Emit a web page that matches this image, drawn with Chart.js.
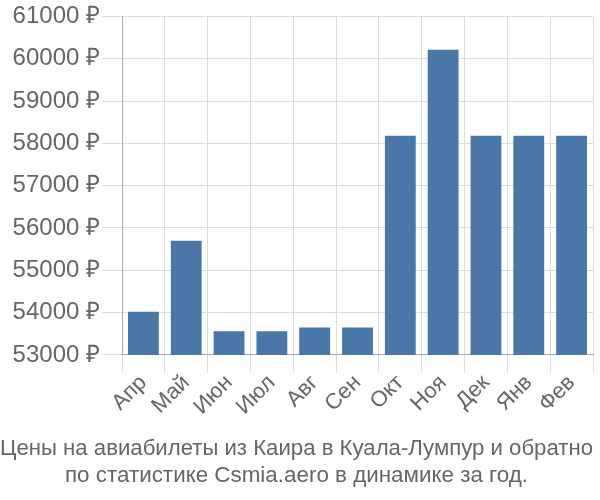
<!DOCTYPE html>
<html>
<head>
<meta charset="utf-8">
<script src="https://cdn.jsdelivr.net/npm/chart.js@4"></script>
<style>
  html, body { margin: 0; padding: 0; background: #fff; }
  #wrap { width: 600px; height: 500px; }
</style>
</head>
<body>
<div id="wrap"><canvas id="chart"></canvas></div>
<script>
// data
const months = ['Апр', 'Май', 'Июн', 'Июл', 'Авг', 'Сен', 'Окт', 'Ноя', 'Дек', 'Янв', 'Фев'];
const prices = [54020, 55700, 53560, 53560, 53650, 53650, 58180, 60210, 58180, 58180, 58180];
const titleLines = [
    'Цены на авиабилеты из Каира в Куала-Лумпур и обратно',
    'по статистике Csmia.aero в динамике за год.'
];

const ctx = document.getElementById('chart').getContext('2d');
new Chart(ctx, {
    type: 'bar',
    data: {
        labels: months,
        datasets: [{
            data: prices,
            backgroundColor: '#4a77a8',
            borderColor: '#4a77a8',
            borderWidth: 0
        }]
    },
    options: {
        responsive: true,
        maintainAspectRatio: false,
        animation: false,
        layout: { padding: { left: 0, right: 7, top: 0, bottom: 0 } },
        plugins: {
            legend: { display: false },
            tooltip: { enabled: false },
            title: {
                display: true,
                position: 'bottom',
                text: titleLines,
                color: '#666',
                font: { family: 'Liberation Sans', size: 22.4, weight: 'normal', lineHeight: 1.23 },
                padding: { top: 0, bottom: 10 }
            }
        },
        scales: {
            y: {
                min: 53000,
                max: 61000,
                afterFit: axis => { axis.width = 122; },
                ticks: {
                    stepSize: 1000,
                    color: '#666',
                    padding: 2,
                    font: { family: 'Liberation Sans', size: 24 },
                    callback: v => v + ' ₽'
                },
                grid: { color: '#ddd', tickLength: 20 },
                border: { color: '#aaa' }
            },
            x: {
                afterFit: axis => { axis.height = 80; },
                ticks: {
                    color: '#666',
                    padding: -3,
                    font: { family: 'Liberation Sans', size: 22 },
                    maxRotation: 45,
                    minRotation: 45
                },
                grid: { color: '#ddd', offset: true, tickLength: 18 },
                border: { color: '#aaa' }
            }
        }
    }
});
</script>
</body>
</html>
